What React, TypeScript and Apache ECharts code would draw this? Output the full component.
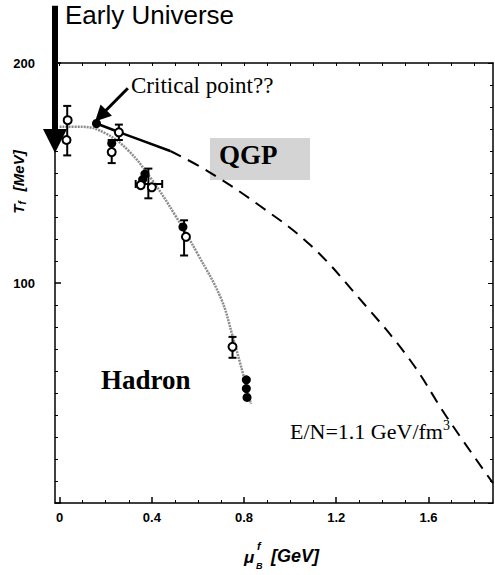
import React, { useEffect, useRef } from 'react';
import * as echarts from 'echarts';

// axis ticks
const xMajorTicks = [0, 0.4, 0.8, 1.2, 1.6];
const xMinorTicks = [0.1, 0.2, 0.3, 0.5, 0.6, 0.7, 0.9, 1.0, 1.1, 1.3, 1.4, 1.5, 1.7, 1.8];
const xAllTicks = [0, 0.1, 0.2, 0.3, 0.4, 0.5, 0.6, 0.7, 0.8, 0.9, 1.0, 1.1, 1.2, 1.3, 1.4, 1.5, 1.6, 1.7, 1.8];
const yTickLabels = [100, 200];

// gray freeze-out curve (hadron side)
const hadronMu = [0, 0.1, 0.2, 0.3, 0.4, 0.5, 0.6, 0.7, 0.75, 0.8, 0.83];
const hadronT = [171, 171, 168, 160, 147, 131, 113, 93, 76, 57, 45];

// QGP boundary: solid part from the critical point, then dashed
const boundarySolidMu = [0.16, 0.26, 0.48];
const boundarySolidT = [172.5, 168.5, 160];
const boundaryDashMu = [0.48, 0.64, 0.87, 1.09, 1.3, 1.52, 1.68, 1.88];
const boundaryDashT = [160, 151, 135, 117, 93, 65, 39, 9];

// measured freeze-out points
const openMu = [0.035, 0.03, 0.257, 0.226, 0.352, 0.4, 0.548, 0.75];
const openT = [174, 165, 168.5, 159.5, 144.5, 143.5, 121, 71];
const filledMu = [0.16, 0.226, 0.37, 0.36, 0.535, 0.81, 0.81, 0.813];
const filledT = [172.5, 163.5, 149.5, 147, 125.5, 56, 52, 48];

// error bars
const errMu = [0.033, 0.257, 0.226, 0.385, 0.54, 0.75];
const errLow = [158, 165, 154.5, 138.5, 112.5, 66];
const errHigh = [180.5, 172, 165, 152, 128.5, 75.5];
const errXT = [145];
const errXLow = [0.33];
const errXHigh = [0.445];

// annotation arrows (data coordinates)
const earlyUniverseArrow = [[-0.02, 226], [-0.02, 164.5]];
const criticalArrow = [[0.296, 188.5], [0.178, 176]];

const X_MIN = -0.02;
const X_MAX = 1.88;
const GRID = { left: 55, right: 2, top: 63, bottom: 72 };

export default function App() {
  const ref = useRef<HTMLDivElement>(null);
  useEffect(() => {
    if (!ref.current) return;
    const chart = echarts.init(ref.current, null, { renderer: 'svg' });
    const zip = (a: number[], b: number[]) => a.map((v, i) => [v, b[i]]);
    const black = '#000';
    const sans = '"Liberation Sans", Arial, sans-serif';
    const serif = '"Liberation Serif", "Times New Roman", serif';
    const labelFont = { fontFamily: sans, fontWeight: 'bold' as const, fontSize: 13, color: black };

    const vErr = (params: any, api: any) => {
      const x = api.value(0), lo = api.value(1), hi = api.value(2);
      const p1 = api.coord([x, lo]);
      const p2 = api.coord([x, hi]);
      const c = 4;
      const st = { stroke: black, lineWidth: 2 };
      return {
        type: 'group',
        children: [
          { type: 'line', shape: { x1: p1[0], y1: p1[1], x2: p2[0], y2: p2[1] }, style: st },
          { type: 'line', shape: { x1: p1[0] - c, y1: p1[1], x2: p1[0] + c, y2: p1[1] }, style: st },
          { type: 'line', shape: { x1: p2[0] - c, y1: p2[1], x2: p2[0] + c, y2: p2[1] }, style: st },
        ],
      };
    };
    const hErr = (params: any, api: any) => {
      const t = api.value(0), lo = api.value(1), hi = api.value(2);
      const p1 = api.coord([lo, t]);
      const p2 = api.coord([hi, t]);
      const c = 4;
      const st = { stroke: black, lineWidth: 2 };
      return {
        type: 'group',
        children: [
          { type: 'line', shape: { x1: p1[0], y1: p1[1], x2: p2[0], y2: p2[1] }, style: st },
          { type: 'line', shape: { x1: p1[0], y1: p1[1] - c, x2: p1[0], y2: p1[1] + c }, style: st },
          { type: 'line', shape: { x1: p2[0], y1: p2[1] - c, x2: p2[0], y2: p2[1] + c }, style: st },
        ],
      };
    };

    const option: any = {
      animation: false,
      backgroundColor: '#fff',
      grid: [
        { ...GRID, show: false },
        { ...GRID, show: false },
      ],
      xAxis: [
        {
          gridIndex: 0, type: 'value', position: 'bottom', min: X_MIN, max: X_MAX,
          axisLine: { show: true, onZero: false, lineStyle: { color: black, width: 1.5 } },
          axisTick: { show: true, inside: true, length: 6, customValues: xMajorTicks, lineStyle: { color: black, width: 1.5 } },
          axisLabel: { show: true, customValues: xMajorTicks, margin: 8, ...labelFont, formatter: (v: number) => (v === 0 ? '0' : v.toFixed(1)) },
          splitLine: { show: false },
        },
        {
          gridIndex: 0, type: 'value', position: 'top', min: X_MIN, max: X_MAX,
          axisLine: { show: true, onZero: false, lineStyle: { color: black, width: 1.5 } },
          axisTick: { show: true, inside: true, length: 3, customValues: xAllTicks, lineStyle: { color: black, width: 1 } },
          axisLabel: { show: false },
          splitLine: { show: false },
        },
        {
          gridIndex: 1, type: 'value', position: 'bottom', min: X_MIN, max: X_MAX,
          axisLine: { show: false, onZero: false },
          axisTick: { show: true, inside: true, length: 3, customValues: xMinorTicks, lineStyle: { color: black, width: 1 } },
          axisLabel: { show: false },
          splitLine: { show: false },
        },
      ],
      yAxis: [
        {
          gridIndex: 0, type: 'value', position: 'left', min: 0, max: 200, interval: 100,
          axisLine: { show: true, onZero: false, lineStyle: { color: black, width: 1.5 } },
          axisTick: { show: true, inside: true, length: 6, lineStyle: { color: black, width: 1.5 } },
          minorTick: { show: true, splitNumber: 10, length: 3, lineStyle: { color: black, width: 1 } },
          axisLabel: { show: true, customValues: yTickLabels, margin: 20, ...labelFont },
          splitLine: { show: false },
        },
        {
          gridIndex: 0, type: 'value', position: 'right', min: 0, max: 200, interval: 100,
          axisLine: { show: true, onZero: false, lineStyle: { color: black, width: 1.5 } },
          axisTick: { show: true, inside: true, length: 5, lineStyle: { color: black, width: 1 } },
          minorTick: { show: true, splitNumber: 10, length: 3, lineStyle: { color: black, width: 1 } },
          axisLabel: { show: false },
          splitLine: { show: false },
        },
        { gridIndex: 1, type: 'value', min: 0, max: 200, show: false },
      ],
      series: [
        {
          type: 'line', xAxisIndex: 0, yAxisIndex: 0, data: zip(hadronMu, hadronT), smooth: 0.4,
          symbol: 'none', lineStyle: { color: '#8c8c8c', width: 2.5, type: [2, 1] }, z: 2,
        },
        {
          type: 'line', xAxisIndex: 0, yAxisIndex: 0, data: zip(boundarySolidMu, boundarySolidT), smooth: 0.4,
          symbol: 'none', lineStyle: { color: black, width: 2.5 }, z: 2,
        },
        {
          type: 'line', xAxisIndex: 0, yAxisIndex: 0, data: zip(boundaryDashMu, boundaryDashT), smooth: 0.4,
          symbol: 'none', lineStyle: { color: black, width: 2, type: [12, 8] }, z: 2,
        },
        {
          type: 'custom', xAxisIndex: 0, yAxisIndex: 0, renderItem: vErr,
          data: errMu.map((m, i) => [m, errLow[i], errHigh[i]]), encode: { x: 0, y: [1, 2] }, z: 3,
        },
        {
          type: 'custom', xAxisIndex: 0, yAxisIndex: 0, renderItem: hErr,
          data: errXT.map((t, i) => [t, errXLow[i], errXHigh[i]]), encode: { y: 0, x: [1, 2] }, z: 3,
        },
        {
          type: 'scatter', xAxisIndex: 0, yAxisIndex: 0, data: zip(filledMu, filledT), symbol: 'circle', symbolSize: 9,
          itemStyle: { color: black, opacity: 1 }, z: 4,
        },
        {
          type: 'scatter', xAxisIndex: 0, yAxisIndex: 0, data: zip(openMu, openT), symbol: 'circle', symbolSize: 8,
          itemStyle: { color: '#fff', borderColor: black, borderWidth: 2, opacity: 1 }, z: 5,
        },
        {
          type: 'lines', coordinateSystem: 'cartesian2d', xAxisIndex: 0, yAxisIndex: 0, clip: false,
          data: [{ coords: earlyUniverseArrow }], symbol: ['none', 'triangle'], symbolSize: [16, 24],
          lineStyle: { color: black, width: 6, opacity: 1 }, z: 6,
        },
        {
          type: 'lines', coordinateSystem: 'cartesian2d', xAxisIndex: 0, yAxisIndex: 0, clip: false,
          data: [{ coords: criticalArrow }], symbol: ['none', 'triangle'], symbolSize: [12, 16],
          lineStyle: { color: black, width: 3, opacity: 1 }, z: 6,
        },
      ],
      graphic: [
        { type: 'text', left: 65, top: 2, z: 10, style: { text: 'Early Universe', fontSize: 26, fontFamily: sans, fill: black } },
        { type: 'text', left: 131, top: 74, z: 10, style: { text: 'Critical point??', fontSize: 23, fontFamily: serif, fill: black } },
        { type: 'rect', left: 210, top: 138, z: 1, shape: { width: 100, height: 42 }, style: { fill: '#d4d4d4' } },
        { type: 'text', left: 219, top: 141, z: 10, style: { text: 'QGP', fontSize: 27, fontWeight: 'bold', fontFamily: serif, fill: black } },
        { type: 'text', left: 101, top: 366, z: 10, style: { text: 'Hadron', fontSize: 27, fontWeight: 'bold', fontFamily: serif, fill: black } },
        {
          type: 'text', left: 290, top: 418, z: 10,
          style: {
            text: '{a|E/N=1.1 GeV/fm}{b|3}',
            rich: {
              a: { fontSize: 22, fontFamily: serif, color: black, lineHeight: 26 },
              b: { fontSize: 14, fontFamily: serif, color: black, lineHeight: 14, verticalAlign: 'top' },
            },
          },
        },
        {
          type: 'text', x: 18, y: 182, rotation: Math.PI / 2, z: 10,
          style: {
            text: '{t|T}{s|f}   {t|[MeV]}', align: 'center', verticalAlign: 'middle',
            rich: {
              t: { fontSize: 15, fontStyle: 'italic', fontWeight: 'bold', fontFamily: sans, color: black, lineHeight: 18 },
              s: { fontSize: 10, fontStyle: 'italic', fontWeight: 'bold', fontFamily: sans, color: black, lineHeight: 10, verticalAlign: 'bottom' },
            },
          },
        },
        { type: 'text', left: 244, top: 549, z: 10, style: { text: 'μ', fontSize: 17, fontStyle: 'italic', fontWeight: 'bold', fontFamily: sans, fill: black } },
        { type: 'text', left: 257, top: 540, z: 10, style: { text: 'f', fontSize: 11, fontStyle: 'italic', fontWeight: 'bold', fontFamily: sans, fill: black } },
        { type: 'text', left: 256, top: 561, z: 10, style: { text: 'B', fontSize: 9, fontStyle: 'italic', fontWeight: 'bold', fontFamily: sans, fill: black } },
        { type: 'text', left: 271, top: 547, z: 10, style: { text: '[GeV]', fontSize: 18, fontStyle: 'italic', fontWeight: 'bold', fontFamily: sans, fill: black } },
      ],
    };
    chart.setOption(option);
    return () => chart.dispose();
  }, []);
  return <div ref={ref} style={{ position: 'absolute', left: 0, top: 0, width: 495, height: 575, background: '#fff' }} />;
}
